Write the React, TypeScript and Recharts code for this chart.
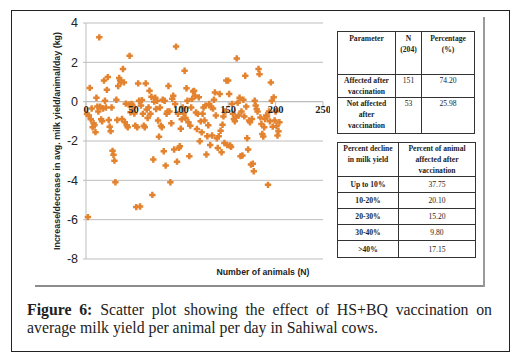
import {
  ScatterChart,
  Scatter,
  XAxis,
  YAxis,
  CartesianGrid,
  ReferenceLine,
  ReferenceDot,
} from "recharts";

// change in avg. milk yield per animal per day (kg), animals 1..204 in order
const milkChange = [
  -0.63, -5.87, -0.7, 0.7, -0.9, -0.35, -1.3, -1.1, -1.2, -1.55,
  0.2, -0.25, -0.5, 3.27, -0.25, -0.9, -1.0, -0.35, 1.07, 0.05,
  -0.3, 0.6, 1.25, -0.93, -1.27, -1.5, -0.3, -2.5, -2.7, -3.0,
  -4.1, 0.1, -0.93, 0.8, 1.2, 1.07, 1.0, -0.88, 1.66, 0.98,
  -1.05, -0.1, -1.2, -1.3, -0.15, 2.33, -0.54, -0.12, -0.2, -0.29,
  -0.6, -1.22, -5.36, -1.3, 0.93, 0.05, -5.33, -0.2, 0.08, -0.62,
  -1.22, -1.3, 0.93, -0.4, -0.83, -0.3, 0.56, -0.62, 0.25, -4.74,
  -2.94, 0.0, 0.2, -0.37, 0.05, -0.96, -1.78, -0.3, -1.22, -1.3,
  0.1, -2.52, 0.05, -3.25, -0.62, -0.5, 0.8, -0.5, -4.1, -1.1,
  0.15, 0.3, -2.43, -0.12, 2.8, -3.05, -0.62, -2.35, -2.27, -1.38,
  -0.9, -0.29, -0.6, 1.57, -0.83, 0.68, 0.05, -1.05, -2.77, -1.22,
  -0.3, 0.14, 0.52, 0.55, 0.3, -0.55, -1.39, -0.62, 0.22, -2.01,
  -1.0, -1.56, -0.62, -0.3, -0.96, -0.2, -2.69, -1.76, -1.2, -0.12,
  -2.2, -0.29, -1.72, -0.35, 0.1, 0.47, -0.7, -1.86, -2.35, -1.76,
  0.39, -1.48, -2.57, -1.17, -0.75, -2.1, -0.5, 1.07, -2.2, 1.07,
  0.39, -2.23, -2.3, -0.12, -0.62, -0.88, -1.0, -0.8, 2.2, -0.05,
  -0.7, 0.2, -2.77, -0.5, -2.74, 0.1, -0.75, 1.32, -0.25, -1.86,
  -2.43, -0.96, -1.05, -3.2, -0.88, -3.16, -3.54, 0.05, -0.2, -0.37,
  -0.5, 1.66, 1.4, -0.8, -1.13, -1.64, -1.77, -1.3, -0.88, -0.7,
  -0.75, -4.23, -0.5, -1.0, 0.98, 0.05, -1.27, 0.22, -0.96, -0.5,
  -1.25, -1.72, -1.5, -1.05,
];

const xTicks = [0, 50, 100, 150, 200, 250];
const yTicks = [-8, -6, -4, -2, 0, 2, 4];

const summaryRows = [
  { param: ["Affected after", "vaccination"], n: "151", pct: "74.20" },
  { param: ["Not affected", "after", "vaccination"], n: "53", pct: "25.98" },
];

const declineBands = ["Up to 10%", "10-20%", "20-30%", "30-40%", ">40%"];
const declinePct = ["37.75", "20.10", "15.20", "9.80", "17.15"];

const ORANGE = "#E3832F";
const GRID = "#bdbdbd";

const points = milkChange.map((v, i) => ({ animal: i + 1, change: v }));

const PlusMarker = (props: any) => {
  const { cx, cy } = props;
  if (cx == null || cy == null) return null;
  const a = 3.2;
  const b = 1.25;
  const d = `M${cx - b},${cy - a}H${cx + b}V${cy - b}H${cx + a}V${cy + b}H${cx + b}V${cy + a}H${cx - b}V${cy + b}H${cx - a}V${cy - b}H${cx - b}Z`;
  return <path d={d} fill={ORANGE} />;
};

const serif = "'Liberation Serif', 'Times New Roman', serif";
const cell: React.CSSProperties = {
  border: "1px solid #333",
  fontFamily: serif,
  fontSize: 7.6,
  lineHeight: "11px",
  textAlign: "center",
  padding: 0,
  color: "#222",
};

export default function App() {
  return (
    <div
      style={{
        position: "absolute",
        left: 0,
        top: 0,
        width: 520,
        height: 361,
        background: "#fff",
        overflow: "hidden",
      }}
    >
      {/* outer black frame */}
      <div
        style={{
          position: "absolute",
          left: 11,
          top: 10,
          width: 497,
          height: 340,
          border: "1px solid #222",
        }}
      />
      {/* grey image frame */}
      <div style={{ position: "absolute", left: 35, top: 285, width: 450, height: 2, background: "#8c8c8c" }} />
      <div style={{ position: "absolute", left: 483, top: 17, width: 2, height: 270, background: "#9a9a9a" }} />

      <div style={{ position: "absolute", left: 0, top: 0 }}>
        <ScatterChart
          width={330}
          height={290}
          margin={{ top: 23, right: 7, bottom: 31, left: 56 }}
        >
          <CartesianGrid vertical={false} stroke={GRID} strokeWidth={1} />
          <XAxis
            type="number"
            dataKey="animal"
            domain={[0, 250]}
            ticks={xTicks}
            hide
          />
          <YAxis
            type="number"
            dataKey="change"
            domain={[-8, 4]}
            ticks={yTicks}
            width={30}
            axisLine={{ stroke: GRID }}
            tickLine={{ stroke: GRID }}
            tickSize={3}
            tickMargin={5}
            tick={{ fill: "#222", fontSize: 12.5, fontFamily: "'Liberation Sans', Arial, sans-serif" }}
          />
          <ReferenceLine y={0} stroke={GRID} strokeWidth={1} />
          {xTicks.map((t) => (
            <ReferenceLine
              key={`tm${t}`}
              segment={[
                { x: t, y: 0 },
                { x: t, y: -0.22 },
              ]}
              stroke={GRID}
            />
          ))}
          <Scatter
            data={points}
            shape={<PlusMarker />}
            isAnimationActive={false}
          />
          {xTicks.map((t) => (
            <ReferenceDot
              key={`tl${t}`}
              x={t}
              y={0}
              r={0}
              fill="none"
              stroke="none"
              label={{
                value: String(t),
                position: "bottom",
                offset: 4,
                fill: "#222",
                fontSize: 10.5,
                fontWeight: 700,
                fontFamily: serif,
              }}
            />
          ))}
        </ScatterChart>
      </div>

      {/* axis titles */}
      <svg
        width={330}
        height={290}
        style={{ position: "absolute", left: 0, top: 0, pointerEvents: "none" }}
      >
        <text
          transform="translate(60,141) rotate(-90)"
          textAnchor="middle"
          fontFamily="'Liberation Sans', Arial, sans-serif"
          fontWeight={700}
          fontSize={9.5}
          fill="#222"
          textLength={218}
          lengthAdjust="spacingAndGlyphs"
        >
          Increase/decrease in avg. milk yield/animal/day (kg)
        </text>
        <text
          x={263}
          y={275}
          textAnchor="middle"
          fontFamily="'Liberation Sans', Arial, sans-serif"
          fontWeight={700}
          fontSize={9.5}
          fill="#222"
          textLength={93}
          lengthAdjust="spacingAndGlyphs"
        >
          Number of animals (N)
        </text>
      </svg>

      {/* summary table */}
      <table
        style={{
          position: "absolute",
          left: 337,
          top: 31,
          width: 137,
          borderCollapse: "collapse",
          tableLayout: "fixed",
        }}
      >
        <colgroup>
          <col style={{ width: 58 }} />
          <col style={{ width: 26 }} />
          <col style={{ width: 53 }} />
        </colgroup>
        <tbody>
          <tr style={{ height: 43 }}>
            <td style={{ ...cell, verticalAlign: "top", fontWeight: 700, paddingTop: 1 }}>Parameter</td>
            <td style={{ ...cell, verticalAlign: "top", fontWeight: 700, paddingTop: 1 }}>
              N<br />(204)
            </td>
            <td style={{ ...cell, verticalAlign: "top", fontWeight: 700, paddingTop: 1 }}>
              Percentage<br />(%)
            </td>
          </tr>
          {summaryRows.map((r, i) => (
            <tr key={i} style={{ height: i === 0 ? 22 : 36 }}>
              <td style={{ ...cell, verticalAlign: "top", fontWeight: 700 }}>
                {r.param.map((p, j) => (
                  <div key={j}>{p}</div>
                ))}
              </td>
              <td style={{ ...cell, verticalAlign: "top" }}>{r.n}</td>
              <td style={{ ...cell, verticalAlign: "top" }}>{r.pct}</td>
            </tr>
          ))}
        </tbody>
      </table>

      {/* decline table */}
      <table
        style={{
          position: "absolute",
          left: 337,
          top: 142,
          width: 138,
          borderCollapse: "collapse",
          tableLayout: "fixed",
        }}
      >
        <colgroup>
          <col style={{ width: 61 }} />
          <col style={{ width: 77 }} />
        </colgroup>
        <tbody>
          <tr style={{ height: 33 }}>
            <td style={{ ...cell, verticalAlign: "top", fontWeight: 700 }}>
              Percent decline<br />in milk yield
            </td>
            <td style={{ ...cell, verticalAlign: "top", fontWeight: 700 }}>
              Percent of animal<br />affected after<br />vaccination
            </td>
          </tr>
          {declineBands.map((b, i) => (
            <tr key={b} style={{ height: i === 4 ? 17 : 16 }}>
              <td style={{ ...cell, fontWeight: 700 }}>{b}</td>
              <td style={cell}>{declinePct[i]}</td>
            </tr>
          ))}
        </tbody>
      </table>

      {/* caption */}
      <div
        style={{
          position: "absolute",
          left: 27,
          top: 301,
          width: 465,
          fontFamily: serif,
          fontSize: 15.8,
          lineHeight: "18px",
          color: "#222",
          textAlign: "justify",
        }}
      >
        <span style={{ fontWeight: 700 }}>Figure 6:</span>
        <span> Scatter plot showing the effect of HS+BQ vaccination on average milk yield per animal per day in Sahiwal cows.</span>
      </div>
    </div>
  );
}
